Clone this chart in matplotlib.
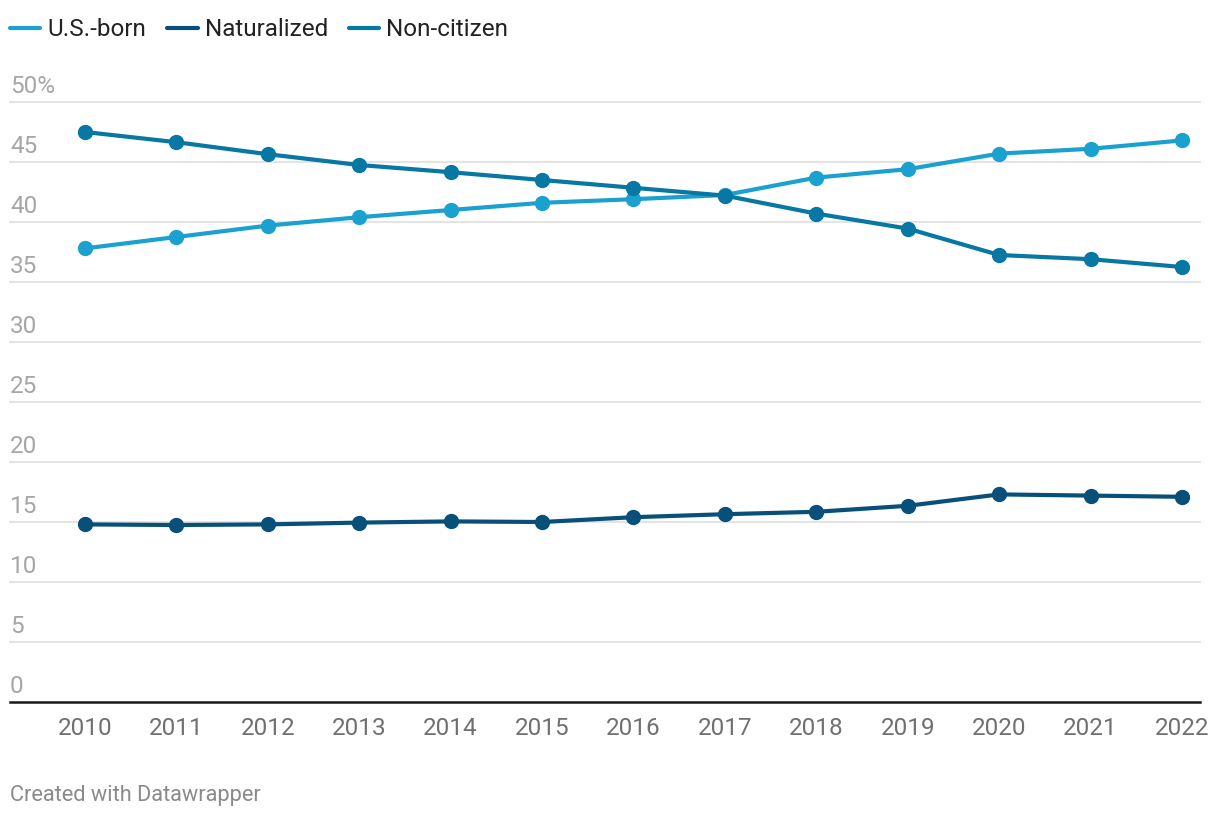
import matplotlib
matplotlib.use("Agg")
import matplotlib.pyplot as plt
from matplotlib.lines import Line2D

plt.rcParams["font.family"] = ["Roboto", "DejaVu Sans"]

years = list(range(2010, 2023))
us_born = [37.8, 38.75, 39.7, 40.4, 41.0, 41.6, 41.9, 42.25, 43.7, 44.4, 45.7, 46.1, 46.8]
naturalized = [14.8, 14.75, 14.8, 14.95, 15.05, 15.0, 15.4, 15.65, 15.85, 16.35, 17.3, 17.2, 17.1]
non_citizen = [47.5, 46.65, 45.65, 44.75, 44.15, 43.5, 42.85, 42.2, 40.7, 39.45, 37.25, 36.9, 36.25]

series_names = ["U.S.-born", "Naturalized", "Non-citizen"]
colors = ["#1ba1cf", "#08507a", "#0777a3"]
y_ticks = [0, 5, 10, 15, 20, 25, 30, 35, 40, 45, 50]

W, H = 1220, 818
FS = 17.5
fig = plt.figure(figsize=(W / 100, H / 100), dpi=100)
ax = fig.add_axes([10 / W, (H - 702) / H, 1190 / W, 600 / H])

ax.set_xlim(2009.18, 2022.197)
ax.set_ylim(0, 50)

# ── Siatka i etykiety osi Y ─────────────────────────────────
for t in y_ticks[1:]:
    ax.axhline(t, color="#e2e2e2", lw=1.3, zorder=0, clip_on=False)
for t in y_ticks:
    label = f"{t}%" if t == 50 else str(t)
    ax.text(2009.18, t + 0.75, label, color="#a6a6a6", fontsize=FS,
            ha="left", va="baseline")

for s in ["top", "right", "left"]:
    ax.spines[s].set_visible(False)
ax.spines["bottom"].set_color("#1a1a1a")
ax.spines["bottom"].set_linewidth(1.8)
ax.set_yticks([])
ax.set_xticks(years)
ax.set_xticklabels([str(y) for y in years], color="#707070", fontsize=FS)
ax.tick_params(axis="x", length=0, pad=11)

# ── Serie ───────────────────────────────────────────────────
for name, vals, c in zip(series_names, [us_born, naturalized, non_citizen], colors):
    ax.plot(years, vals, color=c, lw=3, marker="o", markersize=10,
            clip_on=False, zorder=3, label=name)

# ── Legenda ─────────────────────────────────────────────────
handles = [Line2D([0], [0], color=c, lw=3, solid_capstyle="round") for c in colors]
fig.legend(handles, series_names, loc="center left",
           bbox_to_anchor=(10 / W, 1 - 30 / H), ncol=3, frameon=False,
           fontsize=FS, handlelength=1.25, handletextpad=0.3,
           columnspacing=0.85, labelcolor="#222222",
           borderpad=0, borderaxespad=0)

fig.text(10 / W, 1 - 795 / H, "Created with Datawrapper", color="#8a8a8a",
         fontsize=15.7, ha="left", va="center")

fig.savefig("out.png", dpi=100)
